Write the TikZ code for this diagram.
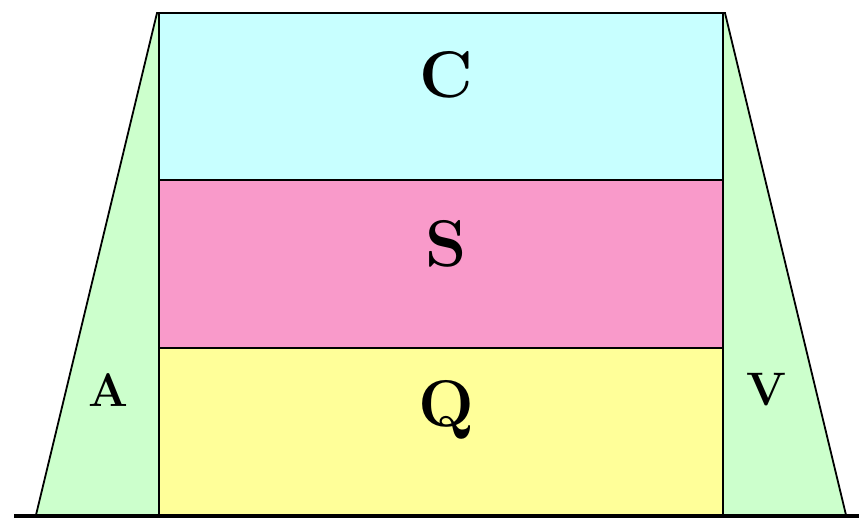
\documentclass[tikz,border=0pt]{standalone}
\definecolor{cC}{HTML}{C8FFFF}
\definecolor{cS}{HTML}{F99ACA}
\definecolor{cQ}{HTML}{FFFF99}
\definecolor{cG}{HTML}{CCFFCC}
\tikzset{
  band/.style={draw=black, line width=2.4pt},
  side/.style={fill=cG, draw=black, line width=1.8pt, line join=miter},
  big/.style={font=\fontsize{66}{66}\selectfont\bfseries, inner sep=0pt},
  small/.style={font=\fontsize{47}{47}\selectfont\bfseries, inner sep=0pt},
}
\begin{document}
\begin{tikzpicture}[x=1pt,y=-1pt]
\useasboundingbox (0,0) rectangle (859,518);
\fill[white] (0,0) rectangle (859,518);
% side trapezoid parts
\draw[side] (36,515) -- (157,13) -- (159,13) -- (159,515) -- cycle;
\draw[side] (846,515) -- (725,13) -- (723,13) -- (723,515) -- cycle;
% bands
\draw[band, fill=cC] (159,13) rectangle (723,180);
\draw[band, fill=cS] (159,180) rectangle (723,348);
\draw[band, fill=cQ] (159,348) rectangle (723,515);
% ground line
\draw[line width=4pt] (14,516) -- (859,516);
% labels
\node[big] (c) at (446,75) {C};
\node[big] (s) at (446,244) {S};
\node[big] (q) at (446,410) {Q};
\node[small] (a) at (108,390) {A};
\node[small] (v) at (766,390) {V};
\end{tikzpicture}
\end{document}
